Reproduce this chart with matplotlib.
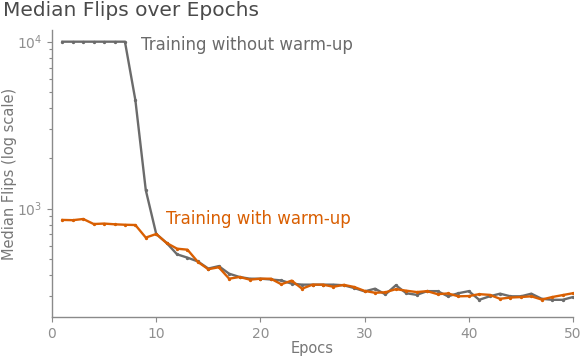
import numpy as np
import matplotlib
matplotlib.use("Agg")
import matplotlib.pyplot as plt

# epochs 1..50
epochs = np.arange(1, 51)

# median flips, training without warm-up (grey)
flips_no_warmup = [
    10000, 10000, 10000, 10000, 10000, 10000, 10000, 4470, 1290, 705,
    622, 532, 508, 482, 437, 452, 407, 389, 380, 380,
    376, 371, 355, 350, 350, 350, 350, 347, 334, 319,
    331, 306, 347, 311, 304, 320, 320, 298, 311, 320,
    284, 298, 309, 298, 298, 309, 288, 284, 284, 295,
]

# median flips, training with warm-up (orange)
flips_warmup = [
    855, 852, 866, 808, 813, 805, 800, 797, 670, 704,
    622, 575, 567, 479, 433, 445, 380, 389, 375, 380,
    380, 352, 370, 331, 350, 350, 340, 349, 339, 321,
    313, 315, 329, 322, 316, 320, 307, 310, 298, 299,
    307, 304, 288, 293, 295, 298, 285, 295, 303, 311,
]

grey = "#6b6b6b"
orange = "#d95f02"
axis_col = "#8a8a8a"

fig = plt.figure(figsize=(5.82, 3.58), dpi=100)
ax = fig.add_axes([52/582, 1-317/358, (573-52)/582, (317-30)/358])

ax.plot(epochs, flips_no_warmup, color=grey, lw=1.7, marker="o", ms=1.4, zorder=2)
ax.plot(epochs, flips_warmup, color=orange, lw=1.7, marker="o", ms=1.4, zorder=3)

ax.set_yscale("log")
ax.set_xlim(0, 50)
ax.set_ylim(224, 11750)
ax.set_xticks([0, 10, 20, 30, 40, 50])

for side in ["top", "right"]:
    ax.spines[side].set_visible(False)
for side in ["left", "bottom"]:
    ax.spines[side].set_color(axis_col)
    ax.spines[side].set_linewidth(1.0)

ax.tick_params(axis="both", which="major", colors=axis_col, labelcolor="#8f8f8f",
               labelsize=10, length=3.5, width=0.8)
ax.tick_params(axis="y", which="minor", colors=axis_col, length=2.5, width=0.8)

ax.set_xlabel("Epocs", color="#777777", fontsize=10.5)
ax.set_ylabel("Median Flips (log scale)", color="#777777", fontsize=10.5)
ax.xaxis.set_label_coords(0.5, (317-348)/287)
ax.yaxis.set_label_coords((10-52)/521, 0.5)
ax.xaxis.label.set_va("center")
ax.yaxis.label.set_va("center")

ax.text(8.55, 9550, "Training without warm-up", color=grey, fontsize=12,
        va="center", ha="left")
ax.text(10.95, 863, "Training with warm-up", color=orange, fontsize=12,
        va="center", ha="left")

fig.text(3/582, 1-10/358, "Median Flips over Epochs", color="#4a4a4a",
         fontsize=14.5, ha="left", va="center")

fig.savefig("out.png", dpi=100)
